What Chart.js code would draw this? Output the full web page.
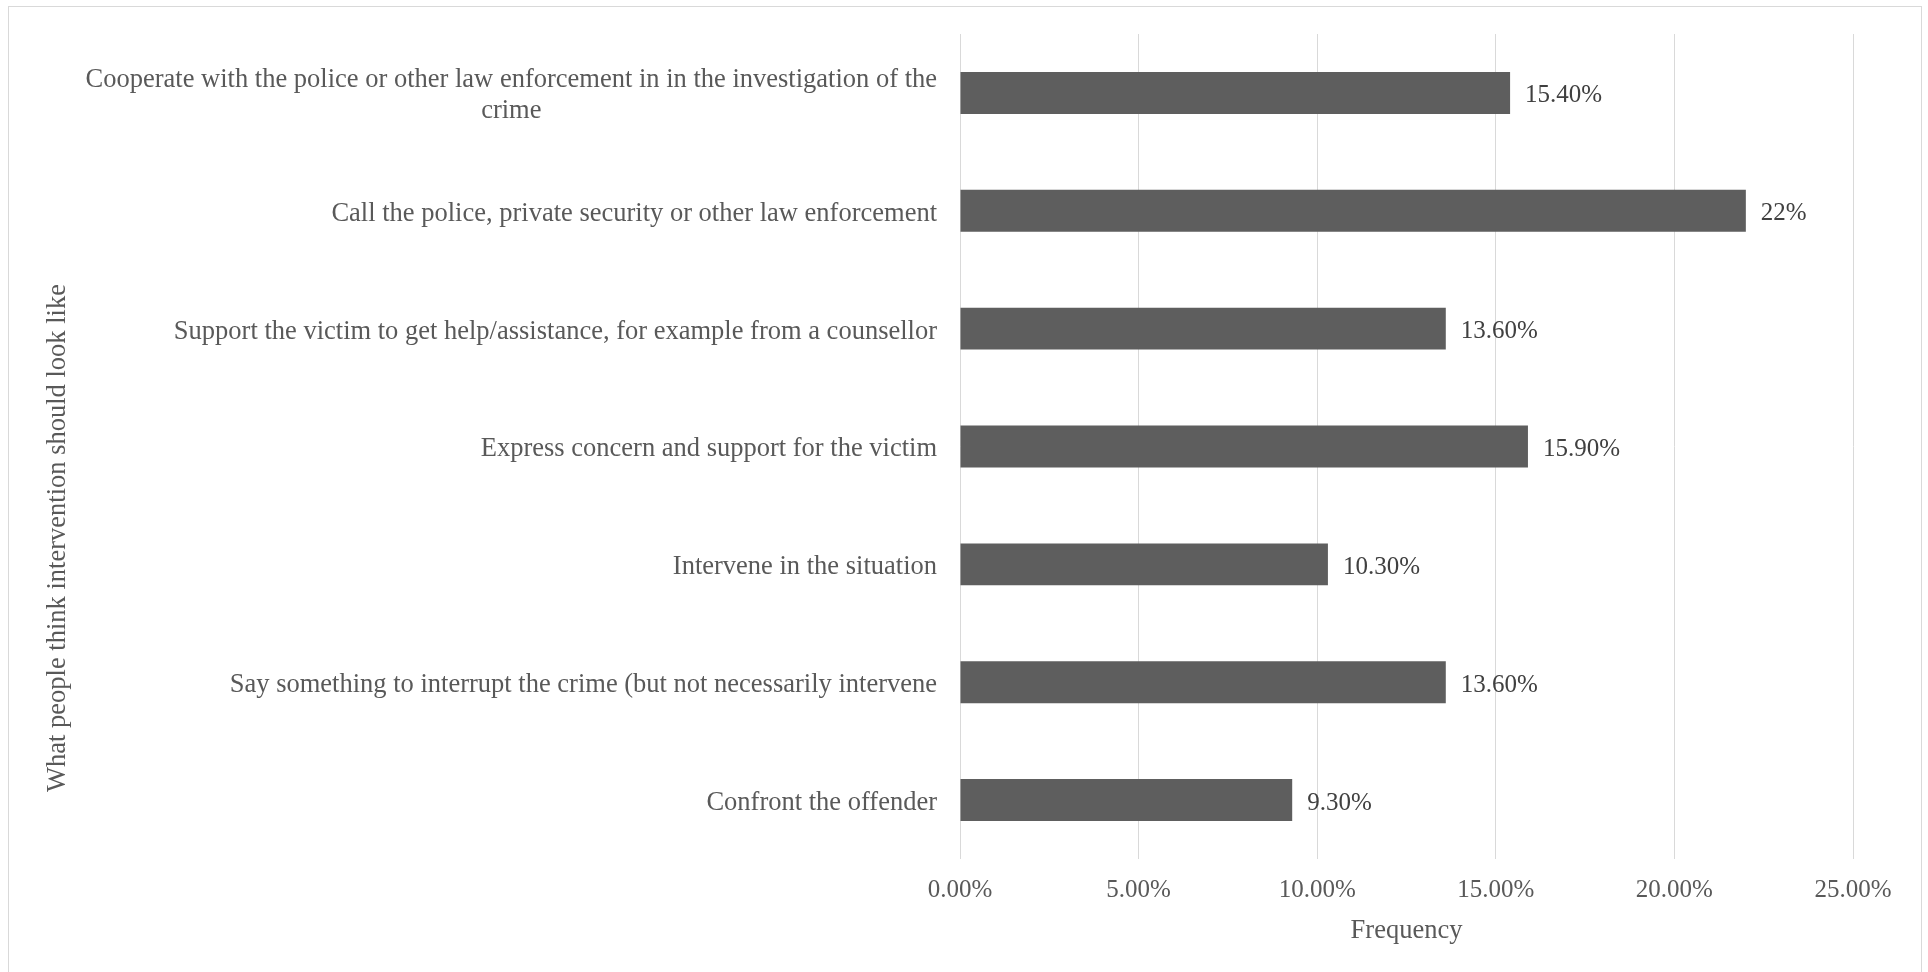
<!DOCTYPE html>
<html>
<head>
<meta charset="utf-8">
<script src="https://cdn.jsdelivr.net/npm/chart.js@4"></script>
<style>
  html, body { margin: 0; padding: 0; background: #fff; }
  #wrap { width: 1928px; height: 972px; }
</style>
</head>
<body>
<div id="wrap"><canvas id="myChart" width="1928" height="972"></canvas></div>
<script>
// categories, top to bottom
const categories = [
    ['Cooperate with the police or other law enforcement in in the investigation of the', 'crime'],
    'Call the police, private security or other law enforcement',
    'Support the victim to get help/assistance, for example from a counsellor',
    'Express concern and support for the victim',
    'Intervene in the situation',
    'Say something to interrupt the crime (but not necessarily intervene',
    'Confront the offender'
];
const frequency = [15.4, 22, 13.6, 15.9, 10.3, 13.6, 9.3];
const valueLabels = ['15.40%', '22%', '13.60%', '15.90%', '10.30%', '13.60%', '9.30%'];
const xTicks = [0, 5, 10, 15, 20, 25];

const FONT = '"Liberation Serif", "Times New Roman", serif';
const fontSize = 25;     // ticks + data labels
const labelSize = 26.5;  // category labels + axis titles

// border + axis titles + labels
const extras = {
    id: 'extras',
    beforeDraw(chart) {
        const c = chart.ctx;
        c.save();
        c.strokeStyle = '#d9d9d9';
        c.lineWidth = 1;
        c.strokeRect(8.5, 6.5, 1913, 990);
        c.restore();
    },
    afterDatasetsDraw(chart) {
        const c = chart.ctx;
        c.save();
        c.font = fontSize + 'px ' + FONT;
        c.fillStyle = '#404040';
        c.textAlign = 'left';
        c.textBaseline = 'middle';
        chart.getDatasetMeta(0).data.forEach((bar, i) => {
            c.fillText(valueLabels[i], bar.x + 15, bar.y + 3);
        });

        // category labels (multi-line ones are centred within their block)
        const y = chart.scales.y;
        c.font = labelSize + 'px ' + FONT;
        c.fillStyle = '#595959';
        const right = y.right - 23;
        categories.forEach((lab, i) => {
            const lines = Array.isArray(lab) ? lab : [lab];
            const widest = Math.max(...lines.map(l => c.measureText(l).width));
            const cy = y.getPixelForTick(i);
            const lh = 31;
            lines.forEach((l, k) => {
                const w = c.measureText(l).width;
                const ly = cy - (lines.length - 1) * lh / 2 + k * lh;
                c.fillText(l, right - widest + (widest - w) / 2, ly + 3);
            });
        });

        // axis titles
        const ca = chart.chartArea;
        c.textAlign = 'center';
        c.fillText('Frequency', (ca.left + ca.right) / 2, 931);
        c.translate(58, 538);
        c.rotate(-Math.PI / 2);
        c.fillText('What people think intervention should look like', 0, 0);
        c.restore();
    }
};

new Chart(document.getElementById('myChart'), {
    type: 'bar',
    data: {
        labels: categories,
        datasets: [{
            data: frequency,
            backgroundColor: '#5e5e5e',
            borderWidth: 0,
            barPercentage: 0.356,
            categoryPercentage: 1
        }]
    },
    options: {
        indexAxis: 'y',
        responsive: false,
        animation: false,
        devicePixelRatio: 1,
        layout: { padding: { left: 0, right: 75, top: 34, bottom: 0 } },
        plugins: { legend: { display: false }, tooltip: { enabled: false } },
        scales: {
            x: {
                min: 0,
                max: 25,
                afterBuildTicks: s => { s.ticks = xTicks.map(v => ({ value: v })); },
                afterFit: s => { s.height = 113; },
                ticks: {
                    padding: 16,
                    color: '#595959',
                    font: { family: FONT, size: fontSize },
                    callback: v => v.toFixed(2) + '%'
                },
                grid: { color: '#d9d9d9', drawTicks: false },
                border: { display: false }
            },
            y: {
                afterFit: s => { s.width = 960; },
                ticks: { display: false },
                grid: { display: false },
                border: { display: false }
            }
        }
    },
    plugins: [extras]
});
</script>
</body>
</html>
